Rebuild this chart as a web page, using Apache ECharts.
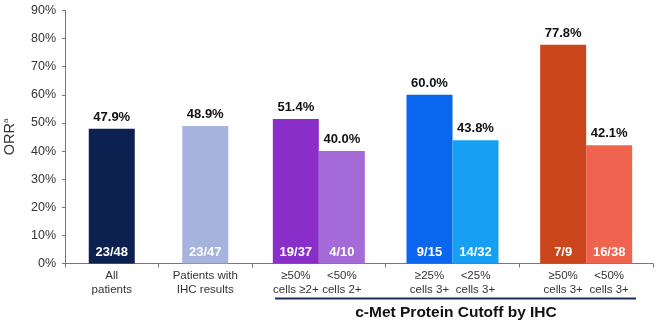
<!DOCTYPE html>
<html><head><meta charset="utf-8">
<script src="https://cdn.jsdelivr.net/npm/echarts@6/dist/echarts.min.js"></script>
<style>html,body{margin:0;padding:0;background:#fff}#c{width:660px;height:327px}</style>
</head><body><div id="c"></div>
<script>
// ---- data ----
const mainCategories = ['All\npatients', 'Patients with\nIHC results'];
const mainOrr = [47.9, 48.9];
const mainCounts = ['23/48', '23/47'];

const cutoffGroups = ['2+', '3+ (25%)', '3+ (50%)'];
const highLabels = ['≥50%\ncells ≥2+', '≥25%\ncells 3+', '≥50%\ncells 3+'];
const highOrr = [51.4, 60.0, 77.8];
const highCounts = ['19/37', '9/15', '7/9'];
const lowLabels = ['<50%\ncells 2+', '<25%\ncells 3+', '<50%\ncells 3+'];
const lowOrr = [40.0, 43.8, 42.1];
const lowCounts = ['4/10', '14/32', '16/38'];

const yTicks = [0, 10, 20, 30, 40, 50, 60, 70, 80, 90];

// ---- styles ----
const mainColors = ['#0c2150', '#a5b3dd'];
const highColors = ['#8a2ec9', '#0b66ef', '#cb461c'];
const lowColors = ['#a46ad8', '#15a0f3', '#f0634e'];
const FONT = 'Liberation Sans, Arial, sans-serif';

function barSet(idx, stack, values, counts, names, colors) {
  const zeros = values.map(() => 0);
  return [
    { type: 'bar', xAxisIndex: idx, yAxisIndex: idx, stack, data: zeros, barWidth: 46, barGap: '0%',
      silent: true, itemStyle: { color: 'transparent' },
      label: { show: !!names, position: 'bottom', distance: 5, color: '#333', fontSize: 11.5,
        fontFamily: FONT, lineHeight: 14, formatter: p => names ? names[p.dataIndex] : '' } },
    { type: 'bar', xAxisIndex: idx, yAxisIndex: idx, stack, barWidth: 46, barGap: '0%',
      data: values.map((v, i) => ({ value: v, itemStyle: { color: colors[i] } })),
      label: { show: true, position: 'insideBottom', distance: 5, color: '#fff', fontWeight: 'bold',
        fontSize: 13, fontFamily: FONT, formatter: p => counts[p.dataIndex] } },
    { type: 'bar', xAxisIndex: idx, yAxisIndex: idx, stack, data: zeros, barWidth: 46, barGap: '0%',
      silent: true, itemStyle: { color: 'transparent' },
      label: { show: true, position: 'top', distance: 5, color: '#111', fontWeight: 'bold',
        fontSize: 13, fontFamily: FONT, formatter: p => values[p.dataIndex].toFixed(1) + '%' } }
  ];
}

const chart = echarts.init(document.getElementById('c'));
const axisLineStyle = { color: '#777', width: 1 };
chart.setOption({
  animation: false,
  grid: [
    { left: 65, width: 187, top: 10.5, bottom: 63.5 },
    { left: 252, width: 401, top: 10.5, bottom: 63.5 }
  ],
  xAxis: [
    { gridIndex: 0, type: 'category', data: mainCategories,
      axisLine: { lineStyle: axisLineStyle }, axisTick: { show: true, length: 4, lineStyle: axisLineStyle },
      axisLabel: { color: '#333', fontSize: 11.5, fontFamily: FONT, lineHeight: 14, margin: 5 } },
    { gridIndex: 1, type: 'category', data: cutoffGroups,
      axisLine: { lineStyle: axisLineStyle }, axisTick: { show: true, length: 4, lineStyle: axisLineStyle },
      axisLabel: { show: false } }
  ],
  yAxis: [
    { gridIndex: 0, type: 'value', min: yTicks[0], max: yTicks[yTicks.length - 1], interval: 10,
      axisLine: { show: true, lineStyle: axisLineStyle }, axisTick: { show: true, length: 3, lineStyle: axisLineStyle },
      splitLine: { show: false },
      axisLabel: { formatter: '{value}%', color: '#333', fontSize: 12.5, fontFamily: FONT, margin: 9 },
      name: 'ORR{s|a}', nameLocation: 'middle', nameGap: 48, nameRotate: 90,
      nameTextStyle: { color: '#333', fontSize: 14.5, fontFamily: FONT,
        rich: { s: { fontSize: 8, verticalAlign: 'top', color: '#333', fontFamily: FONT, padding: [0, 0, 7, 0] } } } },
    { gridIndex: 1, type: 'value', min: yTicks[0], max: yTicks[yTicks.length - 1], interval: 10, show: false,
      splitLine: { show: false } }
  ],
  series: [
    ...barSet(0, 'm', mainOrr, mainCounts, null, mainColors),
    ...barSet(1, 'h', highOrr, highCounts, highLabels, highColors),
    ...barSet(1, 'l', lowOrr, lowCounts, lowLabels, lowColors)
  ],
  graphic: [
    { type: 'line', shape: { x1: 275, y1: 298.5, x2: 636, y2: 298.5 }, style: { stroke: '#1c2a5a', lineWidth: 2 } },
    { type: 'text', x: 456, y: 313, style: { text: 'c-Met Protein Cutoff by IHC', fill: '#111',
      font: 'bold 15.5px ' + FONT, textAlign: 'center', textVerticalAlign: 'middle' } }
  ]
});
</script>
</body></html>
